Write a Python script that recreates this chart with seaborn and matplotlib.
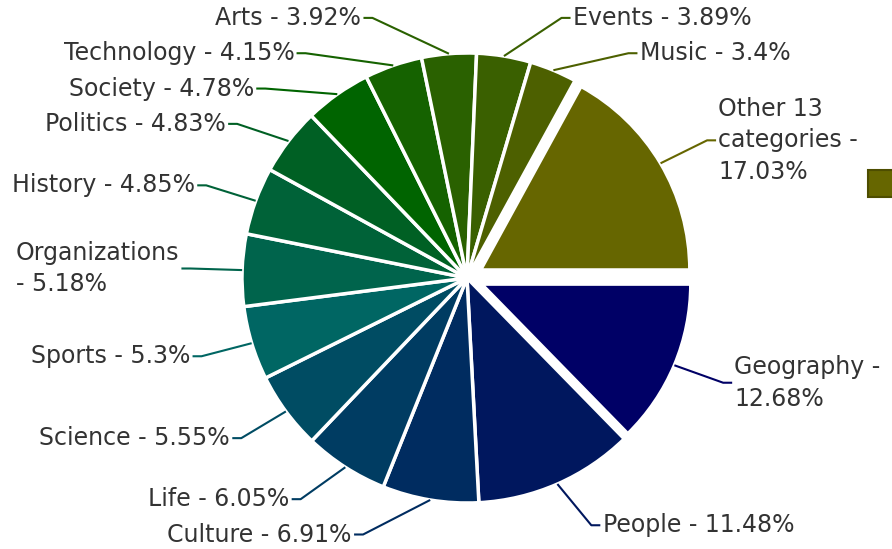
"""Pie chart of article share by category, with leader-line labels."""
import textwrap

import matplotlib
matplotlib.use("Agg")
import matplotlib.pyplot as plt
from matplotlib.patches import Patch
import numpy as np
import seaborn as sns

# data
categories = [
    "Geography", "People", "Culture", "Life", "Science", "Sports",
    "Organizations", "History", "Politics", "Society", "Technology",
    "Arts", "Events", "Music", "Other 13 categories",
]
shares = [12.68, 11.48, 6.91, 6.05, 5.55, 5.3, 5.18, 4.85, 4.83, 4.78,
          4.15, 3.92, 3.89, 3.4, 17.03]
exploded = ["Geography", "Other 13 categories"]

# navy -> teal -> green -> olive
colors = [
    "#000066", "#00175e", "#002c60", "#003c62", "#004c63", "#006663",
    "#00644c", "#006238", "#006024", "#006400", "#156200", "#2a6100",
    "#3a6000", "#4d6000", "#666600",
]

W, H, DPI = 892, 549, 100
CX, CY, SCALE = 467, 278, 225  # pie centre and radius in pixels
TEXT_COLOR = "#333333"
FONT_SIZE = 17
PULL = 0.07

sns.set_theme(style="white")
plt.rcParams["font.family"] = ["DejaVu Sans"]

fig = plt.figure(figsize=(W / DPI, H / DPI), dpi=DPI)
ax = fig.add_axes([0, 0, 1, 1])

explode = [PULL if c in exploded else 0.0 for c in categories]
wedges, _ = ax.pie(
    shares, colors=colors, startangle=0, counterclock=False,
    explode=explode, radius=1.0,
    wedgeprops=dict(edgecolor="white", linewidth=2.5),
)
# pulled-out slices keep their outer rim on the main circle
for w, e in zip(wedges, explode):
    if e:
        w.set_radius(1.0 - e)
ax.set_xlim(-CX / SCALE, (W - CX) / SCALE)
ax.set_ylim(-(H - CY) / SCALE, CY / SCALE)
ax.axis("off")

renderer = fig.canvas.get_renderer()
LINE_H = 0.157   # label row height in data units
ELBOW_R = 1.23
Y_TOP, Y_BOT = 1.156, -1.14


def elbow_x(y, side):
    return side * np.sqrt(max(ELBOW_R ** 2 - y ** 2, 0.0))


# first pass: angles, raw heights, wrapping
labels = []
for wedge, cat, val, col in zip(wedges, categories, shares, colors):
    mid = np.deg2rad((wedge.theta1 + wedge.theta2) / 2)
    side = 1 if np.cos(mid) >= 0 else -1
    y0 = float(np.clip(1.2 * np.sin(mid), Y_BOT, Y_TOP))
    text = f"{cat} - {val:g}%"
    # measure and wrap if the label would leave the figure
    x_anchor = elbow_x(y0, side) + side * 0.05
    t = ax.text(0, 0, text, fontsize=FONT_SIZE)
    width_px = t.get_window_extent(renderer).width
    t.remove()
    anchor_px = CX + x_anchor * SCALE
    if (side < 0 and anchor_px - width_px < 5) or (side > 0 and anchor_px + width_px > W - 5):
        text = textwrap.fill(text, 13)
    labels.append(dict(wedge=wedge, mid=mid, side=side, y=y0, text=text,
                       color=col, lines=text.count("\n") + 1))

# resolve overlaps on each side (top-down, then bottom-up)
for side in (-1, 1):
    group = sorted([l for l in labels if l["side"] == side], key=lambda l: -l["y"])
    for prev, cur in zip(group, group[1:]):
        gap = LINE_H * (prev["lines"] + cur["lines"]) / 2
        cur["y"] = min(cur["y"], prev["y"] - gap)
    group[-1]["y"] = max(group[-1]["y"], Y_BOT)
    for below, cur in zip(group[::-1], group[::-1][1:]):
        gap = LINE_H * (below["lines"] + cur["lines"]) / 2
        cur["y"] = max(cur["y"], below["y"] + gap)

# draw leader lines and labels
for l in labels:
    wx, wy = l["wedge"].center
    r = l["wedge"].r
    ex, ey = wx + r * np.cos(l["mid"]), wy + r * np.sin(l["mid"])
    side, y = l["side"], l["y"]
    xe = elbow_x(y, side)
    xt = xe + side * 0.05
    ax.plot([ex, xe, xt - side * 0.01], [ey, y, y], color=l["color"], lw=1.5,
            solid_capstyle="butt")
    ax.text(xt, y, l["text"], fontsize=FONT_SIZE, color=TEXT_COLOR,
            ha="left" if side > 0 else "right", va="center",
            multialignment="left", linespacing=1.4)

# legend (only its first swatch is inside the canvas)
fig.legend(
    handles=[Patch(facecolor=colors[-1], edgecolor="#4d4d00", linewidth=1.5)],
    labels=[""], loc="upper left", bbox_to_anchor=(868 / W, 1 - 170 / H),
    frameon=False, borderpad=0, borderaxespad=0, fontsize=13,
    handlelength=1.6, handleheight=1.9,
)

fig.savefig("out.png", dpi=DPI)
